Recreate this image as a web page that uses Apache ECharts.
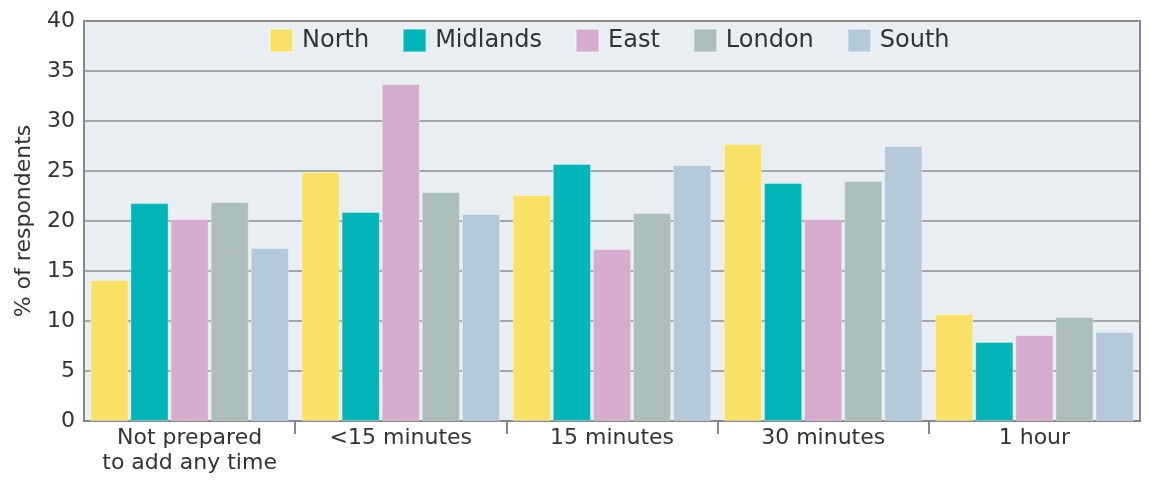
<!DOCTYPE html>
<html>
<head>
<meta charset="utf-8">
<script src="https://cdn.jsdelivr.net/npm/echarts@6/dist/echarts.min.js"></script>
<style>
html,body{margin:0;padding:0;background:#fff;}
#chart{width:1149px;height:484px;}
</style>
</head>
<body>
<div id="chart"></div>
<script>
const categories = ['Not prepared\nto add any time', '<15 minutes', '15 minutes', '30 minutes', '1 hour'];
const seriesNames = ['North', 'Midlands', 'East', 'London', 'South'];
const north    = [14.1, 24.9, 22.6, 27.7, 10.7];
const midlands = [21.8, 20.9, 25.7, 23.8, 7.9];
const east     = [20.2, 33.7, 17.2, 20.2, 8.6];
const london   = [21.9, 22.9, 20.8, 24.0, 10.4];
const south    = [17.3, 20.7, 25.6, 27.5, 8.9];
const yTicks = [0, 5, 10, 15, 20, 25, 30, 35, 40];
const boundaryTicks = [1, 2, 3, 4];

const colors = ['#F9E165', '#00B5B8', '#D6ACCE', '#ABBEBB', '#B3C8D9'];
const values = [north, midlands, east, london, south];
const fontFamily = '"DejaVu Sans", sans-serif';
const textColor = '#333333';
const gridGray = '#8C8F91';

const chart = echarts.init(document.getElementById('chart'), null, {renderer: 'canvas'});
chart.setOption({
  animation: false,
  color: colors,
  textStyle: {fontFamily: fontFamily},
  legend: {
    data: seriesNames,
    left: 269,
    top: 28,
    padding: 0,
    itemWidth: 23,
    itemHeight: 23,
    itemGap: 33,
    icon: 'rect',
    textStyle: {fontSize: 24, color: textColor, fontFamily: fontFamily, padding: [0, 0, 0, 4]}
  },
  grid: {
    left: 84, right: 9, top: 21, bottom: 63,
    show: true,
    backgroundColor: '#E9EEF2',
    borderColor: '#858789',
    borderWidth: 2
  },
  xAxis: [{
    type: 'category',
    data: categories,
    axisLine: {show: true, lineStyle: {color: '#858789', width: 2}},
    axisTick: {show: false},
    axisLabel: {interval: 0, fontSize: 22, lineHeight: 25, color: textColor, margin: 5, fontFamily: fontFamily}
  }, {
    type: 'value',
    position: 'bottom',
    min: 0,
    max: categories.length,
    axisLine: {show: false},
    axisLabel: {show: false},
    splitLine: {show: false},
    axisTick: {show: true, length: 13, customValues: boundaryTicks, lineStyle: {color: '#858789', width: 2}}
  }],
  yAxis: {
    type: 'value',
    min: yTicks[0],
    max: yTicks[yTicks.length - 1],
    interval: 5,
    name: '% of respondents',
    nameLocation: 'middle',
    nameGap: 49,
    nameRotate: 90,
    nameTextStyle: {fontSize: 22, color: textColor, fontFamily: fontFamily},
    axisLine: {show: false},
    axisTick: {show: false},
    axisLabel: {fontSize: 22, color: textColor, margin: 9, fontFamily: fontFamily},
    splitLine: {show: true, lineStyle: {color: gridGray, width: 1.5}}
  },
  series: seriesNames.map(function (name, i) {
    return {
      name: name,
      type: 'bar',
      xAxisIndex: 0,
      data: values[i],
      barGap: '5%',
      barCategoryGap: '6%',
      itemStyle: {color: colors[i], borderColor: 'rgba(255,255,255,0.35)', borderWidth: 1}
    };
  })
});
</script>
</body>
</html>
